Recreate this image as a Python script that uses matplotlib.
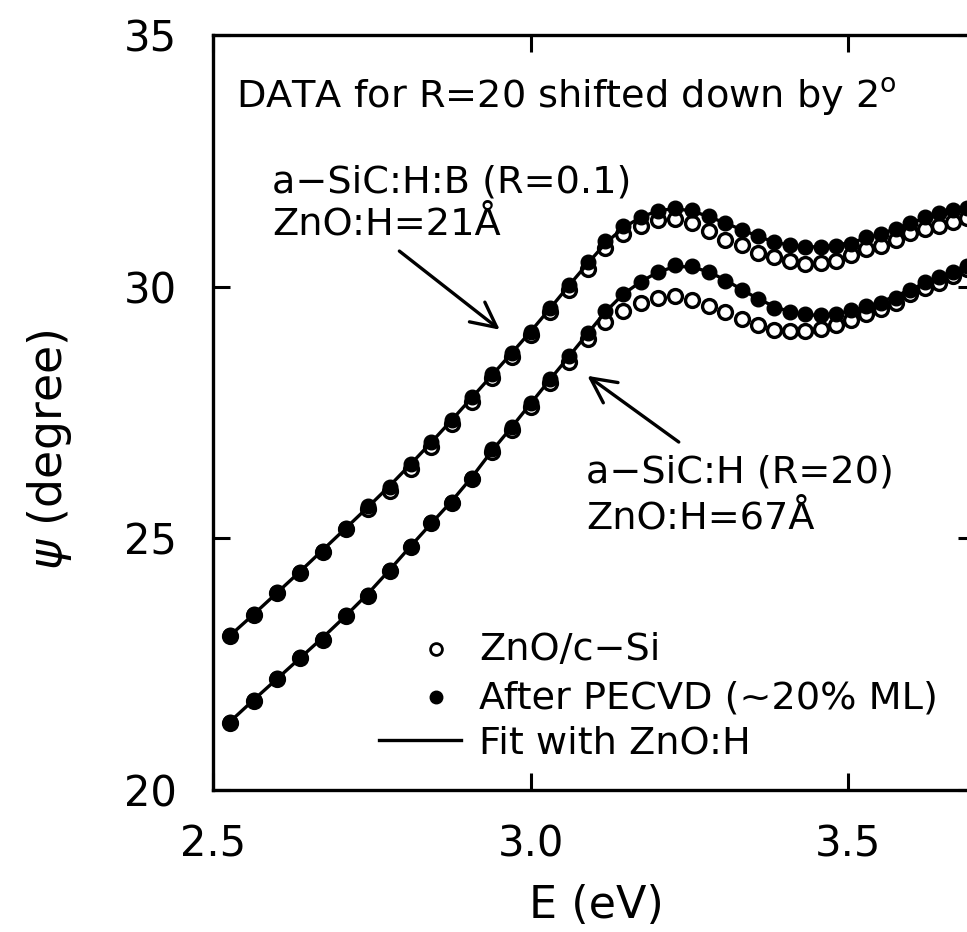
import matplotlib
matplotlib.use("Agg")
import matplotlib.pyplot as plt

# ─── Dati ────────────────────────────────────────────────────────────────────
energy = [2.527, 2.564, 2.601, 2.637, 2.673, 2.709, 2.744, 2.778, 2.811, 2.844,
          2.876, 2.908, 2.940, 2.971, 3.001, 3.031, 3.061, 3.090, 3.118, 3.146,
          3.174, 3.201, 3.228, 3.255, 3.281, 3.307, 3.333, 3.358, 3.383, 3.408,
          3.433, 3.457, 3.481, 3.505, 3.529, 3.552, 3.575, 3.598, 3.621, 3.643,
          3.665, 3.687]

# a-SiC:H:B (R=0.1)
upper_zno = [23.05, 23.48, 23.91, 24.32, 24.73, 25.18, 25.58, 25.93, 26.38, 26.82,
             27.27, 27.71, 28.18, 28.60, 29.04, 29.49, 29.93, 30.36, 30.76, 31.04,
             31.21, 31.32, 31.35, 31.27, 31.11, 30.93, 30.82, 30.66, 30.59, 30.50,
             30.45, 30.46, 30.50, 30.62, 30.74, 30.80, 30.92, 31.06, 31.14, 31.20,
             31.28, 31.36]
upper_after = [23.07, 23.50, 23.93, 24.34, 24.75, 25.21, 25.64, 26.01, 26.47, 26.91,
               27.36, 27.80, 28.27, 28.69, 29.10, 29.57, 30.03, 30.48, 30.90, 31.20,
               31.38, 31.50, 31.56, 31.52, 31.40, 31.26, 31.12, 31.01, 30.88, 30.82,
               30.79, 30.79, 30.81, 30.85, 30.98, 31.04, 31.14, 31.27, 31.38, 31.46,
               31.52, 31.57]
upper_fit = [23.07, 23.49, 23.92, 24.34, 24.77, 25.20, 25.62, 26.04, 26.47, 26.91,
             27.35, 27.80, 28.25, 28.69, 29.12, 29.57, 30.03, 30.46, 30.86, 31.17,
             31.38, 31.51, 31.55, 31.50, 31.39, 31.26, 31.13, 31.00, 30.89, 30.82,
             30.79, 30.79, 30.82, 30.88, 30.96, 31.05, 31.15, 31.26, 31.36, 31.44,
             31.51, 31.57]

# a-SiC:H (R=20), gia' spostato di -2 gradi
lower_zno = [21.34, 21.77, 22.20, 22.62, 22.98, 23.45, 23.86, 24.35, 24.82, 25.30,
             25.71, 26.18, 26.72, 27.15, 27.60, 28.08, 28.50, 28.96, 29.30, 29.52,
             29.67, 29.78, 29.82, 29.74, 29.62, 29.50, 29.36, 29.24, 29.14, 29.11,
             29.12, 29.15, 29.24, 29.34, 29.45, 29.55, 29.68, 29.85, 29.98, 30.08,
             30.22, 30.36]
lower_after = [21.36, 21.79, 22.22, 22.64, 23.00, 23.47, 23.88, 24.37, 24.84, 25.32,
               25.73, 26.20, 26.77, 27.21, 27.68, 28.17, 28.62, 29.08, 29.52, 29.86,
               30.10, 30.30, 30.42, 30.40, 30.29, 30.12, 29.93, 29.76, 29.58, 29.49,
               29.45, 29.43, 29.46, 29.54, 29.62, 29.68, 29.78, 29.94, 30.10, 30.20,
               30.30, 30.40]
lower_fit = [21.36, 21.79, 22.21, 22.62, 23.03, 23.46, 23.90, 24.37, 24.84, 25.30,
             25.74, 26.22, 26.75, 27.22, 27.69, 28.16, 28.62, 29.07, 29.50, 29.85,
             30.10, 30.29, 30.40, 30.39, 30.29, 30.13, 29.94, 29.76, 29.61, 29.50,
             29.44, 29.43, 29.46, 29.52, 29.60, 29.70, 29.81, 29.94, 30.07, 30.19,
             30.30, 30.40]

x_ticks = [2.5, 3.0, 3.5]
x_ticklabels = ["2.5", "3.0", "3.5"]
y_ticks = [20, 25, 30, 35]

FS = 27.5  # testo annotazioni

# ─── Figura ──────────────────────────────────────────────────────────────────
plt.rcParams["font.family"] = ["DejaVu Sans"]
fig = plt.figure(figsize=(9.67, 9.32), dpi=100)
ax = fig.add_axes([0.2203, 0.1524, 0.788, 0.8101])

for e, zno, after, fit in [(energy, upper_zno, upper_after, upper_fit),
                           (energy, lower_zno, lower_after, lower_fit)]:
    ax.plot(e, zno, "o", ms=10, mfc="white", mec="black", mew=2.4, zorder=2)
    ax.plot(e, fit, "-", color="black", lw=2.4, zorder=3)
    ax.plot(e, after, "o", ms=10.5, mfc="black", mec="black", zorder=4)

ax.set_xlim(2.5, 3.70)
ax.set_ylim(20, 35)
ax.set_xticks(x_ticks)
ax.set_xticklabels(x_ticklabels)
ax.set_yticks(y_ticks)
ax.tick_params(direction="in", length=12, width=2.2, labelsize=30,
               top=True, right=True)
ax.tick_params(axis="y", pad=26)
ax.tick_params(axis="x", pad=24)
for sp in ax.spines.values():
    sp.set_linewidth(2.4)

fig.text(596 / 967, 1 - 905 / 932, "E (eV)", fontsize=32, ha="center", va="center")
fig.text(50 / 967, 1 - 450 / 932, r"$\psi$ (degree)", fontsize=33,
         rotation=90, ha="center", va="center")

# ─── Annotazioni ─────────────────────────────────────────────────────────────
ax.text(2.536, 33.55, r"DATA for R=20 shifted down by 2$^{\mathrm{o}}$", fontsize=FS,
        va="baseline")
ax.text(2.593, 31.87, "a\u2212SiC:H:B (R=0.1)", fontsize=FS, va="baseline")
ax.text(2.593, 31.03, "ZnO:H=21\u00c5", fontsize=FS, va="baseline")
ax.annotate("", xy=(2.955, 29.11), xytext=(2.790, 30.74),
            arrowprops=dict(arrowstyle="->", lw=2.4, color="black",
                            mutation_scale=45))
ax.text(3.087, 26.10, "a\u2212SiC:H (R=20)", fontsize=FS, va="baseline")
ax.text(3.087, 25.19, "ZnO:H=67\u00c5", fontsize=FS, va="baseline")
ax.annotate("", xy=(3.086, 28.26), xytext=(3.237, 26.88),
            arrowprops=dict(arrowstyle="->", lw=2.4, color="black",
                            mutation_scale=45))

# legenda disegnata a mano
ax.plot([2.851], [22.81], "o", ms=8.5, mfc="white", mec="black", mew=2.0)
ax.text(2.919, 22.58, "ZnO/c\u2212Si", fontsize=FS, va="baseline")
ax.plot([2.851], [21.84], "o", ms=9, mfc="black", mec="black")
ax.text(2.919, 21.62, "After PECVD (~20% ML)", fontsize=FS, va="baseline")
ax.plot([2.761, 2.891], [20.99, 20.99], "-", color="black", lw=2.4)
ax.text(2.919, 20.73, "Fit with ZnO:H", fontsize=FS, va="baseline")

plt.savefig("out.png", dpi=100)
